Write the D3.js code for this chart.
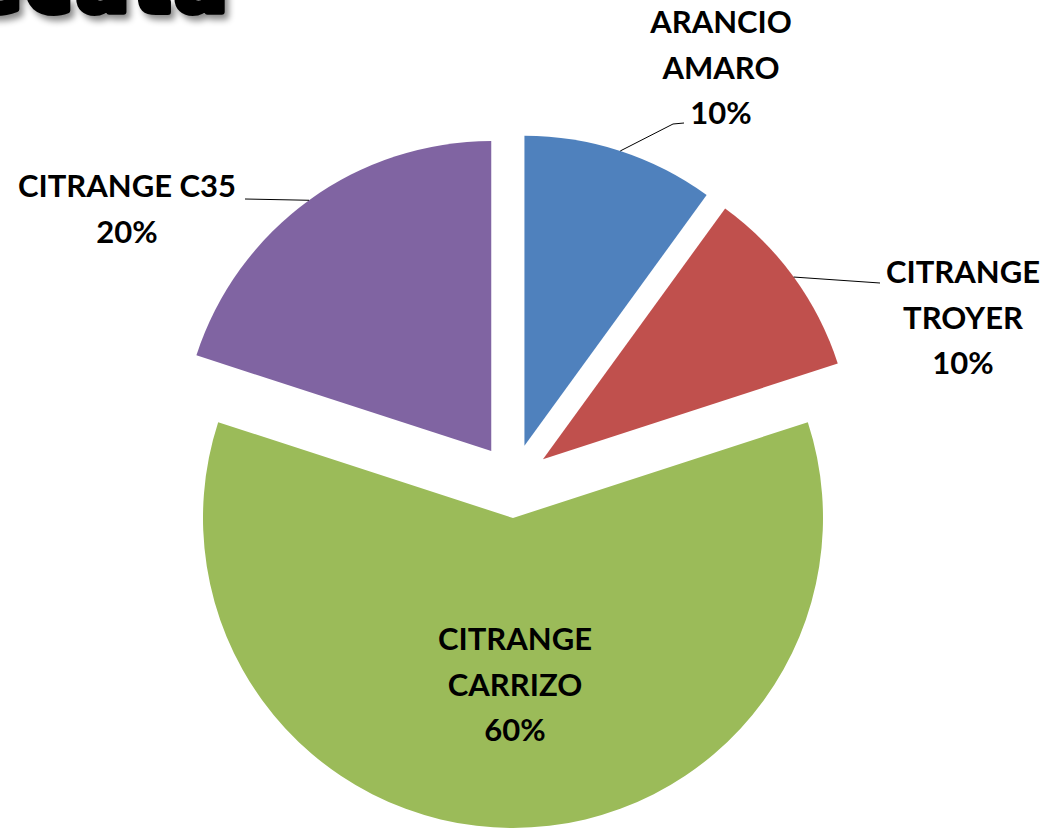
<!DOCTYPE html>
<html>
<head>
<meta charset="utf-8">
<script src="https://cdn.jsdelivr.net/npm/d3@7"></script>
<style>
  body { margin: 0; background: #fff; }
  svg { display: block; }
  .lbl { font-family: Lato, "Open Sans", sans-serif; font-weight: bold; font-size: 31px; fill: #000; }
</style>
</head>
<body>
<div id="chart"></div>
<script>
// data
var categories = ['ARANCIO AMARO', 'CITRANGE TROYER', 'CITRANGE CARRIZO', 'CITRANGE C35'];
var values = [10, 10, 60, 20];
var colors = ['#4F81BD', '#C0504D', '#9BBB59', '#8064A2'];
var labelLines = [['ARANCIO', 'AMARO'], ['CITRANGE', 'TROYER'], ['CITRANGE', 'CARRIZO'], ['CITRANGE C35']];

var width = 1046, height = 828;
var cx = 513, cy = 481, radius = 310, explode = 37;

// label placement (layout only)
var labelPos = [
  {x: 721, y: 33, leader: [[673, 124], [684, 123]]},
  {x: 963, y: 283, leader: [[880, 283]]},
  {x: 515, y: 650, leader: null},
  {x: 127, y: 197, leader: [[245, 199]]}
];
var lineH = 45.5;

var svg = d3.select('#chart').append('svg')
    .attr('width', width)
    .attr('height', height);

var defs = svg.append('defs');
var shadow = defs.append('filter').attr('id', 'shadow')
    .attr('x', '-10%').attr('y', '-10%').attr('width', '130%').attr('height', '140%');
shadow.append('feDropShadow')
    .attr('dx', 4).attr('dy', 5).attr('stdDeviation', 3)
    .attr('flood-color', '#000').attr('flood-opacity', 0.45);

// cut-off slide title at the top
svg.append('text')
    .attr('x', -32)
    .attr('y', 12)
    .attr('filter', 'url(#shadow)')
    .style('font-family', '"DejaVu Sans", sans-serif')
    .style('font-weight', 'bold')
    .style('font-size', '80px')
    .style('letter-spacing', '3px')
    .style('fill', '#000')
    .style('stroke', '#000')
    .style('stroke-width', 6)
    .style('stroke-linejoin', 'round')
    .text('ecata');

var pie = d3.pie().sort(null).value(d => d);
var arcs = pie(values);
var arc = d3.arc().innerRadius(0).outerRadius(radius);

function dir(d) {
  var a = (d.startAngle + d.endAngle) / 2;
  return [Math.sin(a), -Math.cos(a)];
}

var g = svg.append('g').attr('transform', 'translate(' + cx + ',' + cy + ')');

var slices = g.selectAll('.slice')
    .data(arcs)
    .enter()
    .append('path')
    .attr('class', 'slice')
    .attr('transform', d => {
      var v = dir(d);
      return 'translate(' + (v[0] * explode) + ',' + (v[1] * explode) + ')';
    })
    .attr('d', arc)
    .style('fill', (d, i) => colors[i]);

// leader lines
arcs.forEach(function(d, i) {
  var lp = labelPos[i];
  if (!lp.leader) return;
  var v = dir(d);
  var sx = cx + v[0] * (explode + radius), sy = cy + v[1] * (explode + radius);
  var pts = [[sx, sy]].concat(lp.leader);
  svg.append('path')
      .attr('d', d3.line()(pts))
      .style('fill', 'none')
      .style('stroke', '#000')
      .style('stroke-width', 1);
});

// labels
arcs.forEach(function(d, i) {
  var lp = labelPos[i];
  var lines = labelLines[i].concat([Math.round(d.value / d3.sum(values) * 100) + '%']);
  var t = svg.append('text')
      .attr('class', 'lbl')
      .attr('text-anchor', 'middle');
  lines.forEach(function(s, k) {
    t.append('tspan')
        .attr('x', lp.x)
        .attr('y', lp.y + k * lineH)
        .text(s);
  });
});
</script>
</body>
</html>
